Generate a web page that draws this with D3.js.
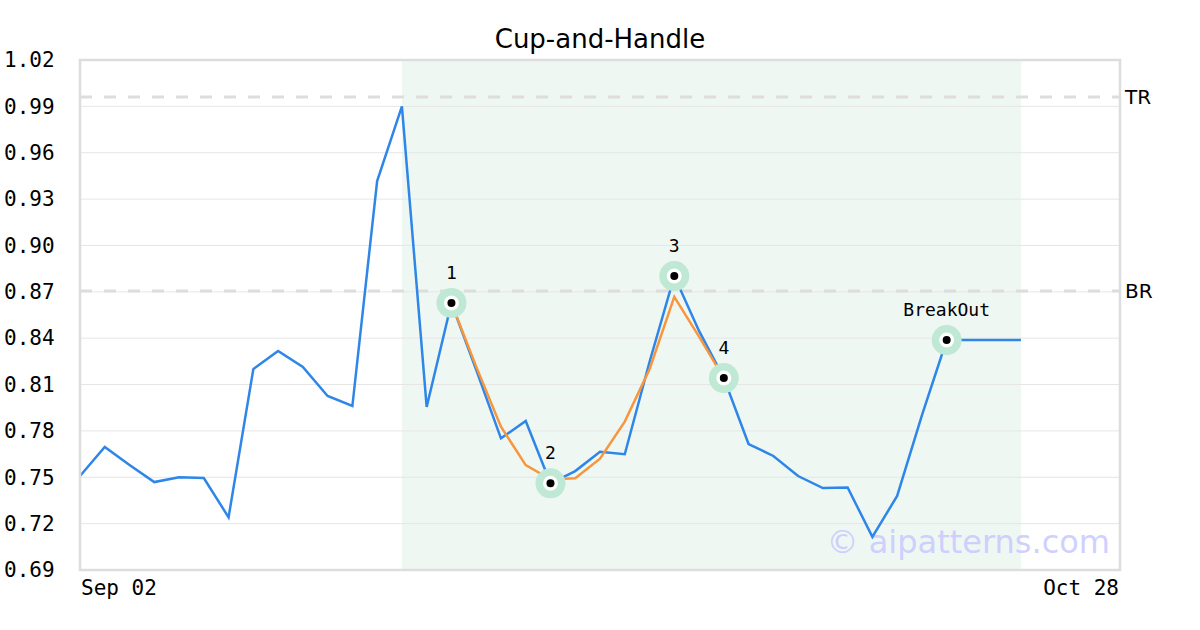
<!DOCTYPE html>
<html>
<head>
<meta charset="utf-8">
<script src="https://cdn.jsdelivr.net/npm/d3@7"></script>
<style>
  body { margin: 0; background: #fff; }
  svg { display: block; }
</style>
</head>
<body>
<div id="chart"></div>
<script>
// Data
var closes = [0.7508, 0.7696, 0.758, 0.7469, 0.750, 0.7495, 0.7241, 0.820, 0.8317, 0.8214,
              0.8026, 0.7961, 0.9417, 0.990, 0.7955, 0.8628, 0.8195, 0.7752, 0.7864, 0.7461,
              0.754, 0.7665, 0.7649, 0.8246, 0.8802, 0.8447, 0.8142, 0.7715, 0.7638, 0.7508,
              0.743, 0.7434, 0.7114, 0.7379, 0.790, 0.8388, 0.8388, 0.8388, 0.8388];
var fitStart = 15;
var fitValues = [0.8628, 0.8216, 0.7827, 0.7579, 0.7487, 0.7494, 0.762, 0.786, 0.8199, 0.8667, 0.841, 0.8142];
var pivots = [
  { i: 15, label: '1' },
  { i: 19, label: '2' },
  { i: 24, label: '3' },
  { i: 26, label: '4' },
  { i: 35, label: 'BreakOut' }
];
var levels = [{ name: 'TR', value: 0.996 }, { name: 'BR', value: 0.8705 }];
var patternRange = [13, 38];
var xTickLabels = [{ i: 0, label: 'Sep 02' }, { i: 42, label: 'Oct 28' }];
var yTicks = [0.69, 0.72, 0.75, 0.78, 0.81, 0.84, 0.87, 0.90, 0.93, 0.96, 0.99, 1.02];

var width = 1200, height = 630;
var margin = { top: 60, right: 80, bottom: 60, left: 80 };
var innerW = width - margin.left - margin.right,
    innerH = height - margin.top - margin.bottom;

var svg = d3.select('#chart').append('svg')
    .attr('width', width)
    .attr('height', height);

var x = d3.scaleLinear().domain([0, 42]).range([margin.left, margin.left + innerW]);
var y = d3.scaleLinear().domain([0.69, 1.02]).range([margin.top + innerH, margin.top]);

// pattern shading
svg.append('rect')
    .attr('x', x(patternRange[0]))
    .attr('y', margin.top)
    .attr('width', x(patternRange[1]) - x(patternRange[0]))
    .attr('height', innerH)
    .attr('fill', '#eff7f3');

// horizontal grid
svg.append('g')
  .selectAll('line')
  .data(yTicks)
  .enter().append('line')
    .attr('x1', margin.left)
    .attr('x2', margin.left + innerW)
    .attr('y1', function(d) { return y(d); })
    .attr('y2', function(d) { return y(d); })
    .attr('stroke', '#e6e6e6')
    .attr('stroke-width', 1);

// y axis labels
var yAxis = d3.axisLeft(y).tickValues(yTicks).tickFormat(d3.format('.2f')).tickSize(0);
svg.append('g')
    .attr('transform', 'translate(' + margin.left + ',0)')
    .call(yAxis)
    .call(function(g) { g.select('.domain').remove(); })
    .selectAll('text')
    .attr('font-family', 'DejaVu Sans Mono, monospace')
    .attr('font-size', 21)
    .attr('fill', '#000')
    .attr('text-anchor', 'start')
    .attr('x', -76);

// x labels
svg.append('g')
  .selectAll('text')
  .data(xTickLabels)
  .enter().append('text')
    .attr('x', function(d, i) { return i === 0 ? x(d.i) + 1 : x(d.i) - 1; })
    .attr('y', 595)
    .attr('text-anchor', function(d, i) { return i === 0 ? 'start' : 'end'; })
    .attr('font-family', 'DejaVu Sans Mono, monospace')
    .attr('font-size', 21)
    .text(function(d) { return d.label; });

// TR / BR levels
svg.append('g')
  .selectAll('line')
  .data(levels)
  .enter().append('line')
    .attr('x1', margin.left)
    .attr('x2', margin.left + innerW)
    .attr('y1', function(d) { return y(d.value); })
    .attr('y2', function(d) { return y(d.value); })
    .attr('stroke', '#dddddd')
    .attr('stroke-width', 3)
    .attr('stroke-dasharray', '12,12');

svg.append('g')
  .selectAll('text')
  .data(levels)
  .enter().append('text')
    .attr('x', margin.left + innerW + 5)
    .attr('y', function(d) { return y(d.value) + 7; })
    .attr('font-family', 'DejaVu Sans, sans-serif')
    .attr('font-size', 20)
    .text(function(d) { return d.name; });

// watermark
svg.append('text')
    .attr('x', 1110)
    .attr('y', 553)
    .attr('text-anchor', 'end')
    .attr('font-family', 'DejaVu Sans, sans-serif')
    .attr('font-size', 32)
    .attr('fill', '#c8c8ff')
    .attr('fill-opacity', 0.85)
    .text('\u00a9 aipatterns.com');

// price line
var line = d3.line()
    .x(function(d, i) { return x(i); })
    .y(function(d) { return y(d); });

svg.append('path')
    .datum(closes)
    .attr('d', line)
    .attr('fill', 'none')
    .attr('stroke', '#2e86e8')
    .attr('stroke-width', 2.5);

// cup fit
var fitLine = d3.line()
    .x(function(d, i) { return x(fitStart + i); })
    .y(function(d) { return y(d); });

svg.append('path')
    .datum(fitValues)
    .attr('d', fitLine)
    .attr('fill', 'none')
    .attr('stroke', '#f7963c')
    .attr('stroke-width', 2.5);

// pivots
var piv = svg.append('g')
  .selectAll('g')
  .data(pivots)
  .enter().append('g')
    .attr('transform', function(d) { return 'translate(' + x(d.i) + ',' + y(closes[d.i]) + ')'; });

piv.append('circle').attr('r', 15).attr('fill', '#bfe8d5');
piv.append('circle').attr('r', 7.5).attr('fill', '#fff');
piv.append('circle').attr('r', 4).attr('fill', '#000');
piv.append('text')
    .attr('y', -24)
    .attr('text-anchor', 'middle')
    .attr('font-family', 'DejaVu Sans Mono, monospace')
    .attr('font-size', 18)
    .text(function(d) { return d.label; });

// frame
svg.append('rect')
    .attr('x', margin.left)
    .attr('y', margin.top)
    .attr('width', innerW)
    .attr('height', innerH)
    .attr('fill', 'none')
    .attr('stroke', '#dddddd')
    .attr('stroke-width', 2.5);

// title
svg.append('text')
    .attr('x', width / 2)
    .attr('y', 48)
    .attr('text-anchor', 'middle')
    .attr('font-family', 'DejaVu Sans, sans-serif')
    .attr('font-size', 26)
    .text('Cup-and-Handle');
</script>
</body>
</html>
